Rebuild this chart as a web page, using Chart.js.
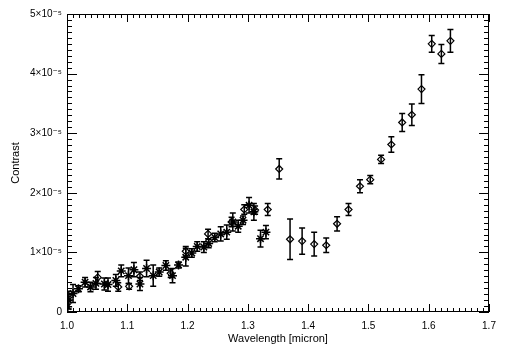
<!DOCTYPE html>
<html>
<head>
<meta charset="utf-8">
<script src="https://cdn.jsdelivr.net/npm/chart.js@4.4.1/dist/chart.umd.min.js"></script>
<style>
  html, body { margin: 0; padding: 0; background: #fff; }
  #wrap { width: 506px; height: 354px; }
</style>
</head>
<body>
<div id="wrap"><canvas id="chart"></canvas></div>
<script>
// asterisk points (y and errors in units of 1e-5)
var starX = [1.001, 1.003, 1.010, 1.019, 1.030, 1.039, 1.048, 1.062, 1.068, 1.081, 1.090, 1.102, 1.111, 1.121, 1.132, 1.143, 1.153, 1.164, 1.175, 1.185, 1.197, 1.207, 1.216, 1.227, 1.235, 1.245, 1.255, 1.265, 1.275, 1.284, 1.292, 1.302, 1.310, 1.321, 1.330];
var starY = [0.09, 0.20, 0.31, 0.39, 0.50, 0.42, 0.48, 0.47, 0.46, 0.53, 0.69, 0.61, 0.71, 0.47, 0.73, 0.61, 0.67, 0.78, 0.61, 0.79, 0.92, 0.99, 1.10, 1.09, 1.15, 1.25, 1.31, 1.34, 1.51, 1.44, 1.54, 1.79, 1.68, 1.23, 1.34];
var starErr = [0.17, 0.15, 0.15, 0.05, 0.08, 0.08, 0.10, 0.10, 0.11, 0.10, 0.10, 0.13, 0.12, 0.11, 0.14, 0.18, 0.07, 0.08, 0.12, 0.05, 0.15, 0.07, 0.08, 0.09, 0.07, 0.07, 0.12, 0.12, 0.15, 0.10, 0.07, 0.13, 0.14, 0.14, 0.11];

// diamond points
var diaX = [1.051, 1.085, 1.103, 1.121, 1.172, 1.197, 1.234, 1.273, 1.294, 1.312, 1.333, 1.352, 1.370, 1.390, 1.410, 1.430, 1.448, 1.467, 1.486, 1.503, 1.521, 1.538, 1.556, 1.572, 1.588, 1.605, 1.621, 1.636];
var diaY = [0.58, 0.42, 0.43, 0.60, 0.65, 1.02, 1.31, 1.51, 1.72, 1.71, 1.72, 2.40, 1.22, 1.19, 1.14, 1.12, 1.48, 1.72, 2.11, 2.22, 2.56, 2.81, 3.18, 3.31, 3.74, 4.50, 4.33, 4.55];
var diaErr = [0.10, 0.07, 0.05, 0.07, 0.07, 0.08, 0.08, 0.08, 0.08, 0.07, 0.10, 0.17, 0.34, 0.22, 0.20, 0.12, 0.12, 0.10, 0.11, 0.07, 0.07, 0.13, 0.15, 0.18, 0.24, 0.14, 0.16, 0.19];

var yUnit = 1e-5;
var xTickLabels = ['1.0', '1.1', '1.2', '1.3', '1.4', '1.5', '1.6', '1.7'];
var yTickLabels = ['0', '1×10⁻⁵', '2×10⁻⁵', '3×10⁻⁵', '4×10⁻⁵', '5×10⁻⁵'];

function makePoints(xs, ys, errs) {
    var pts = [];
    xs.forEach((x, i) => {
        pts.push({ x: x, y: ys[i] * yUnit, err: errs[i] * yUnit });
    });
    return pts;
}

var fontFam = "'Liberation Sans', 'DejaVu Sans', sans-serif";

// error bars with small caps
var errorBars = {
    id: 'errorBars',
    afterDatasetsDraw: function(chart) {
        var ctx = chart.ctx, ys = chart.scales.y, a = chart.chartArea;
        ctx.save();
        ctx.beginPath();
        ctx.rect(a.left, a.top, a.right - a.left, a.bottom - a.top);
        ctx.clip();
        ctx.strokeStyle = '#000';
        ctx.lineWidth = 1.5;
        chart.data.datasets.forEach((ds, i) => {
            var meta = chart.getDatasetMeta(i);
            meta.data.forEach((pt, j) => {
                var d = ds.data[j];
                var top = ys.getPixelForValue(d.y + d.err);
                var bot = ys.getPixelForValue(d.y - d.err);
                ctx.beginPath();
                ctx.moveTo(pt.x, top); ctx.lineTo(pt.x, bot);
                ctx.moveTo(pt.x - 3, top); ctx.lineTo(pt.x + 3, top);
                ctx.moveTo(pt.x - 3, bot); ctx.lineTo(pt.x + 3, bot);
                ctx.stroke();
            });
        });
        ctx.restore();
    }
};

// IDL style box with inward ticks on all four sides
var frameTicks = {
    id: 'frameTicks',
    afterDraw: function(chart) {
        var ctx = chart.ctx, a = chart.chartArea;
        var xs = chart.scales.x, ys = chart.scales.y;
        ctx.save();
        ctx.strokeStyle = '#000';
        ctx.lineWidth = 1;
        ctx.strokeRect(Math.round(a.left) + 0.5, Math.round(a.top) + 0.5,
            Math.round(a.right - a.left) - 1, Math.round(a.bottom - a.top) - 1);
        ctx.beginPath();
        for (var i = 0; i <= 70; i++) {
            var px = Math.round(xs.getPixelForValue(1 + i * 0.01)) + 0.5;
            var len = (i % 10 === 0) ? 8 : 4;
            ctx.moveTo(px, a.bottom); ctx.lineTo(px, a.bottom - len);
            ctx.moveTo(px, a.top); ctx.lineTo(px, a.top + len);
        }
        for (var k = 0; k <= 50; k++) {
            var py = Math.round(ys.getPixelForValue(k * yUnit / 10)) + 0.5;
            var ylen = (k % 10 === 0) ? 10 : 5;
            ctx.moveTo(a.left, py); ctx.lineTo(a.left + ylen, py);
            ctx.moveTo(a.right, py); ctx.lineTo(a.right - ylen, py);
        }
        ctx.stroke();
        ctx.restore();
    }
};

var config = {
    type: 'scatter',
    data: {
        datasets: [{
            label: 'asterisk',
            data: makePoints(starX, starY, starErr),
            pointStyle: 'star',
            pointRadius: 4.5,
            borderColor: '#000',
            backgroundColor: '#000',
            borderWidth: 1.5
        }, {
            label: 'diamond',
            data: makePoints(diaX, diaY, diaErr),
            pointStyle: 'rectRot',
            pointRadius: 3.5,
            borderColor: '#000',
            backgroundColor: 'rgba(0,0,0,0)',
            borderWidth: 1.2
        }]
    },
    options: {
        responsive: true,
        maintainAspectRatio: false,
        animation: false,
        layout: { padding: { top: 14, right: 17, left: 0, bottom: 0 } },
        plugins: {
            legend: { display: false },
            tooltip: { enabled: false }
        },
        scales: {
            x: {
                type: 'linear',
                min: 1.0,
                max: 1.7,
                afterFit: function(s) { s.height = 42; },
                grid: { display: false, drawTicks: false },
                border: { display: false },
                ticks: {
                    stepSize: 0.1,
                    padding: 8,
                    color: '#000',
                    font: { family: fontFam, size: 10 },
                    callback: function(v) { return xTickLabels[Math.round((v - 1) * 10)]; }
                },
                title: {
                    display: true,
                    text: 'Wavelength [micron]',
                    color: '#000',
                    font: { family: fontFam, size: 11 },
                    padding: { top: 0, bottom: 8 }
                }
            },
            y: {
                min: 0,
                max: 5 * yUnit,
                afterFit: function(s) { s.width = 67; },
                grid: { display: false, drawTicks: false },
                border: { display: false },
                ticks: {
                    stepSize: yUnit,
                    padding: 5,
                    color: '#000',
                    font: { family: fontFam, size: 10 },
                    callback: function(v) { return yTickLabels[Math.round(v / yUnit)]; }
                },
                title: {
                    display: true,
                    text: 'Contrast',
                    color: '#000',
                    font: { family: fontFam, size: 11 },
                    padding: { top: 9, bottom: 0 }
                }
            }
        }
    },
    plugins: [errorBars, frameTicks]
};

var ctx = document.getElementById('chart');
window.myChart = new Chart(ctx, config);
</script>
</body>
</html>
